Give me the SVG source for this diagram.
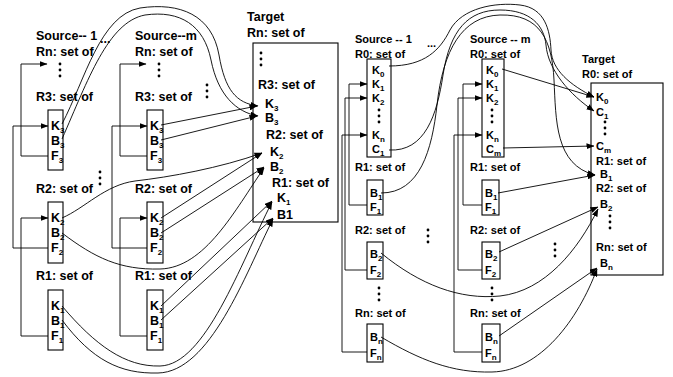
<svg xmlns="http://www.w3.org/2000/svg" width="673" height="377" viewBox="0 0 673 377">
<style>
text{font-family:"Liberation Sans",Arial,Helvetica,sans-serif;font-weight:bold;fill:#000}
.t{font-size:12.5px}
.tr{font-size:11px}
.sub{font-size:8px}
.box{fill:none;stroke:#000;stroke-width:1.1}
.c{fill:none;stroke:#000;stroke-width:0.9}
.a{marker-end:url(#ah)}
.d{fill:#000}
</style>
<defs>
<marker id="ah" markerUnits="userSpaceOnUse" markerWidth="8" markerHeight="6" refX="7.5" refY="3" orient="auto"><path d="M0,0 L8,3 L0,6 z" fill="#000"/></marker>
<g id="vd"><circle cx="0" cy="0" r="1.4"/><circle cx="0" cy="6" r="1.4"/><circle cx="0" cy="12" r="1.4"/></g>
</defs>
<rect width="673" height="377" fill="#fff"/>

<!-- LEFT: Source 1 -->
<g id="ls1-head" class="t">
<text x="36" y="40">Source-- 1</text>
<text x="100" y="43">...</text>
<text x="36" y="56">Rn: set of</text>
<use href="#vd" x="60" y="64" class="d"/>
<text x="36" y="101">R3: set of</text>
</g>
<g id="ls1-r3" class="t"><rect class="box" x="48" y="110" width="15" height="60"/>
<text x="51" y="130">K<tspan class="sub" dy="3">3</tspan></text>
<text x="51" y="145">B<tspan class="sub" dy="3">3</tspan></text>
<text x="51" y="160">F<tspan class="sub" dy="3">3</tspan></text></g>
<g id="ls1-r2" class="t"><text x="36" y="193">R2: set of</text>
<use href="#vd" x="100" y="172" class="d"/>
<rect class="box" x="48" y="202" width="15" height="61"/>
<text x="51" y="222">K<tspan class="sub" dy="3">2</tspan></text>
<text x="51" y="237">B<tspan class="sub" dy="3">2</tspan></text>
<text x="51" y="252">F<tspan class="sub" dy="3">2</tspan></text></g>
<g id="ls1-r1" class="t"><text x="36" y="280">R1: set of</text>
<rect class="box" x="48" y="290" width="15" height="60"/>
<text x="51" y="310">K<tspan class="sub" dy="3">1</tspan></text>
<text x="51" y="325">B<tspan class="sub" dy="3">1</tspan></text>
<text x="51" y="340">F<tspan class="sub" dy="3">1</tspan></text></g>

<!-- LEFT: Source m -->
<g id="lsm-head" class="t">
<text x="135" y="40">Source--m</text>
<text x="135" y="56">Rn: set of</text>
<use href="#vd" x="159" y="64" class="d"/>
<text x="135" y="101">R3: set of</text>
<use href="#vd" x="207" y="85" class="d"/>
</g>
<g id="lsm-r3" class="t"><rect class="box" x="147" y="110" width="16" height="60"/>
<text x="150" y="130">K<tspan class="sub" dy="3">3</tspan></text>
<text x="150" y="145">B<tspan class="sub" dy="3">3</tspan></text>
<text x="150" y="160">F<tspan class="sub" dy="3">3</tspan></text></g>
<g id="lsm-r2" class="t"><text x="135" y="193">R2: set of</text>
<rect class="box" x="147" y="202" width="16" height="61"/>
<text x="150" y="222">K<tspan class="sub" dy="3">2</tspan></text>
<text x="150" y="237">B<tspan class="sub" dy="3">2</tspan></text>
<text x="150" y="252">F<tspan class="sub" dy="3">2</tspan></text></g>
<g id="lsm-r1" class="t"><text x="135" y="280">R1: set of</text>
<rect class="box" x="147" y="290" width="16" height="60"/>
<text x="150" y="310">K<tspan class="sub" dy="3">1</tspan></text>
<text x="150" y="325">B<tspan class="sub" dy="3">1</tspan></text>
<text x="150" y="340">F<tspan class="sub" dy="3">1</tspan></text></g>

<!-- LEFT: Target -->
<g id="lt" class="t">
<text x="247" y="21">Target</text>
<text x="247" y="37">Rn: set of</text>
<rect class="box" x="253" y="43" width="85" height="179"/>
<use href="#vd" x="261" y="53" class="d"/>
<text x="258" y="89">R3: set of</text>
<text x="265" y="108">K<tspan class="sub" dy="3">3</tspan></text>
<text x="265" y="122">B<tspan class="sub" dy="3">3</tspan></text>
<text x="266" y="139">R2: set of</text>
<text x="270" y="156">K<tspan class="sub" dy="3">2</tspan></text>
<text x="270" y="171">B<tspan class="sub" dy="3">2</tspan></text>
<text x="272" y="187">R1: set of</text>
<text x="277" y="202">K<tspan class="sub" dy="3">1</tspan></text>
<text x="277" y="219">B1</text>
</g>

<!-- RIGHT: Source 1 -->
<g id="rs1-r0" class="tr">
<text x="355" y="43">Source -- 1</text>
<text x="427" y="47">...</text>
<text x="355" y="58">R0: set of</text>
<rect class="box" x="367" y="59" width="24" height="98"/>
<text x="372" y="74">K<tspan class="sub" dy="3">0</tspan></text>
<text x="372" y="88">K<tspan class="sub" dy="3">1</tspan></text>
<text x="372" y="102">K<tspan class="sub" dy="3">2</tspan></text>
<use href="#vd" x="379" y="110" class="d"/>
<text x="372" y="139">K<tspan class="sub" dy="3">n</tspan></text>
<text x="372" y="153">C<tspan class="sub" dy="3">1</tspan></text>
</g>
<g id="rs1-r1" class="tr"><text x="355" y="171">R1: set of</text>
<rect class="box" x="367" y="180" width="16" height="35"/>
<text x="370" y="197">B<tspan class="sub" dy="3">1</tspan></text>
<text x="370" y="211">F<tspan class="sub" dy="3">1</tspan></text></g>
<g id="rs1-r2" class="tr"><text x="355" y="234">R2: set of</text>
<use href="#vd" x="428" y="230" class="d"/>
<rect class="box" x="367" y="242" width="16" height="37"/>
<text x="370" y="258">B<tspan class="sub" dy="3">2</tspan></text>
<text x="370" y="274">F<tspan class="sub" dy="3">2</tspan></text>
<use href="#vd" x="379" y="288" class="d"/></g>
<g id="rs1-rn" class="tr"><text x="355" y="317">Rn: set of</text>
<rect class="box" x="367" y="324" width="16" height="38"/>
<text x="370" y="341">B<tspan class="sub" dy="3">n</tspan></text>
<text x="370" y="357">F<tspan class="sub" dy="3">n</tspan></text></g>

<!-- RIGHT: Source m -->
<g id="rsm-r0" class="tr">
<text x="470" y="43">Source -- m</text>
<text x="470" y="58">R0: set of</text>
<rect class="box" x="482" y="59" width="22" height="98"/>
<text x="486" y="74">K<tspan class="sub" dy="3">0</tspan></text>
<text x="486" y="88">K<tspan class="sub" dy="3">1</tspan></text>
<text x="486" y="102">K<tspan class="sub" dy="3">2</tspan></text>
<use href="#vd" x="492" y="110" class="d"/>
<text x="486" y="139">K<tspan class="sub" dy="3">n</tspan></text>
<text x="486" y="153">C<tspan class="sub" dy="3">m</tspan></text>
</g>
<g id="rsm-r1" class="tr"><text x="470" y="171">R1: set of</text>
<rect class="box" x="482" y="180" width="17" height="35"/>
<text x="485" y="197">B<tspan class="sub" dy="3">1</tspan></text>
<text x="485" y="211">F<tspan class="sub" dy="3">1</tspan></text></g>
<g id="rsm-r2" class="tr"><text x="470" y="234">R2: set of</text>
<use href="#vd" x="555" y="244" class="d"/>
<rect class="box" x="482" y="242" width="18" height="37"/>
<text x="485" y="258">B<tspan class="sub" dy="3">2</tspan></text>
<text x="485" y="274">F<tspan class="sub" dy="3">2</tspan></text>
<use href="#vd" x="492" y="288" class="d"/></g>
<g id="rsm-rn" class="tr"><text x="470" y="317">Rn: set of</text>
<rect class="box" x="482" y="324" width="18" height="38"/>
<text x="485" y="341">B<tspan class="sub" dy="3">n</tspan></text>
<text x="485" y="357">F<tspan class="sub" dy="3">n</tspan></text></g>

<!-- RIGHT: Target -->
<g id="rt" class="tr">
<text x="582" y="63">Target</text>
<text x="582" y="78">R0: set of</text>
<rect class="box" x="591" y="83" width="72" height="192"/>
<text x="596" y="101">K<tspan class="sub" dy="3">0</tspan></text>
<text x="596" y="116">C<tspan class="sub" dy="3">1</tspan></text>
<use href="#vd" x="605" y="122" class="d"/>
<text x="596" y="150">C<tspan class="sub" dy="3">m</tspan></text>
<text x="596" y="165">R1: set of</text>
<text x="600" y="178">B<tspan class="sub" dy="3">1</tspan></text>
<text x="596" y="192">R2: set of</text>
<text x="600" y="208">B<tspan class="sub" dy="3">2</tspan></text>
<use href="#vd" x="610" y="216" class="d"/>
<text x="596" y="251">Rn: set of</text>
<text x="600" y="267">B<tspan class="sub" dy="3">n</tspan></text>
</g>

<g id="connectors" class="c">
<!-- left feedback -->
<path class="a" d="M48,156 H21 V64 H47"/>
<path class="a" d="M48,248 H13 V126 H48"/>
<path class="a" d="M48,336 H21 V218 H48"/>
<path class="a" d="M147,156 H120 V64 H146"/>
<path class="a" d="M147,248 H112 V126 H147"/>
<path class="a" d="M147,336 H120 V218 H147"/>
<!-- left source1 curves -->
<path class="a" d="M62,124 C85,80 100,15 140,8 C180,2 212,15 219,55 C225,90 236,103 258,106"/>
<path class="a" d="M62,139 C88,80 108,22 145,15 C180,10 204,25 211,60 C218,95 236,112 258,116"/>
<path class="a" d="M62,218 C85,208 105,185 135,181 C170,177 220,168 262,153"/>
<path class="a" d="M62,233 C95,258 120,270 160,269 C205,268 235,210 264,168"/>
<path class="a" d="M62,306 C95,345 125,367 160,366 C205,365 240,265 272,202"/>
<path class="a" d="M62,320 C92,360 120,374 158,373 C210,372 245,275 273,219"/>
<!-- left source m straight -->
<path class="a" d="M161,125 L257,106"/>
<path class="a" d="M161,140 L257,116"/>
<path class="a" d="M161,218 L262,153"/>
<path class="a" d="M161,233 L264,167"/>
<path class="a" d="M161,306 L272,201"/>
<path class="a" d="M161,320 L273,218"/>
<!-- right feedback -->
<path class="a" d="M367,205 H349 V84 H367"/>
<path class="a" d="M367,270 H345 V98 H367"/>
<path class="a" d="M367,352 H342 V135 H367"/>
<path class="a" d="M482,205 H463 V84 H482"/>
<path class="a" d="M482,270 H458 V98 H482"/>
<path class="a" d="M482,352 H454 V135 H482"/>
<!-- right source1 curves -->
<path class="a" d="M389,66 C425,66 440,50 450,30 C462,8 495,2 520,5 C545,8 550,30 551,50 C552,70 570,85 594,97"/>
<path class="a" d="M389,150 C425,152 437,115 443,75 C450,30 468,10 500,10 C530,10 544,25 546,45 C548,70 570,95 594,111"/>
<path class="a" d="M381,193 C420,193 432,150 437,105 C443,50 462,16 500,15 C540,14 552,40 554,80 C556,120 555,165 595,175"/>
<path class="a" d="M381,253 C420,285 460,300 500,296 C545,291 578,250 598,209"/>
<path class="a" d="M381,337 C420,360 452,373 492,372 C540,371 578,320 597,269"/>
<!-- right source m straight -->
<path class="a" d="M502,69 L594,97"/>
<path class="a" d="M503,148 L594,146"/>
<path class="a" d="M498,193 L595,175"/>
<path class="a" d="M499,252 L598,207"/>
<path class="a" d="M499,336 L597,268"/>
</g>
</svg>
